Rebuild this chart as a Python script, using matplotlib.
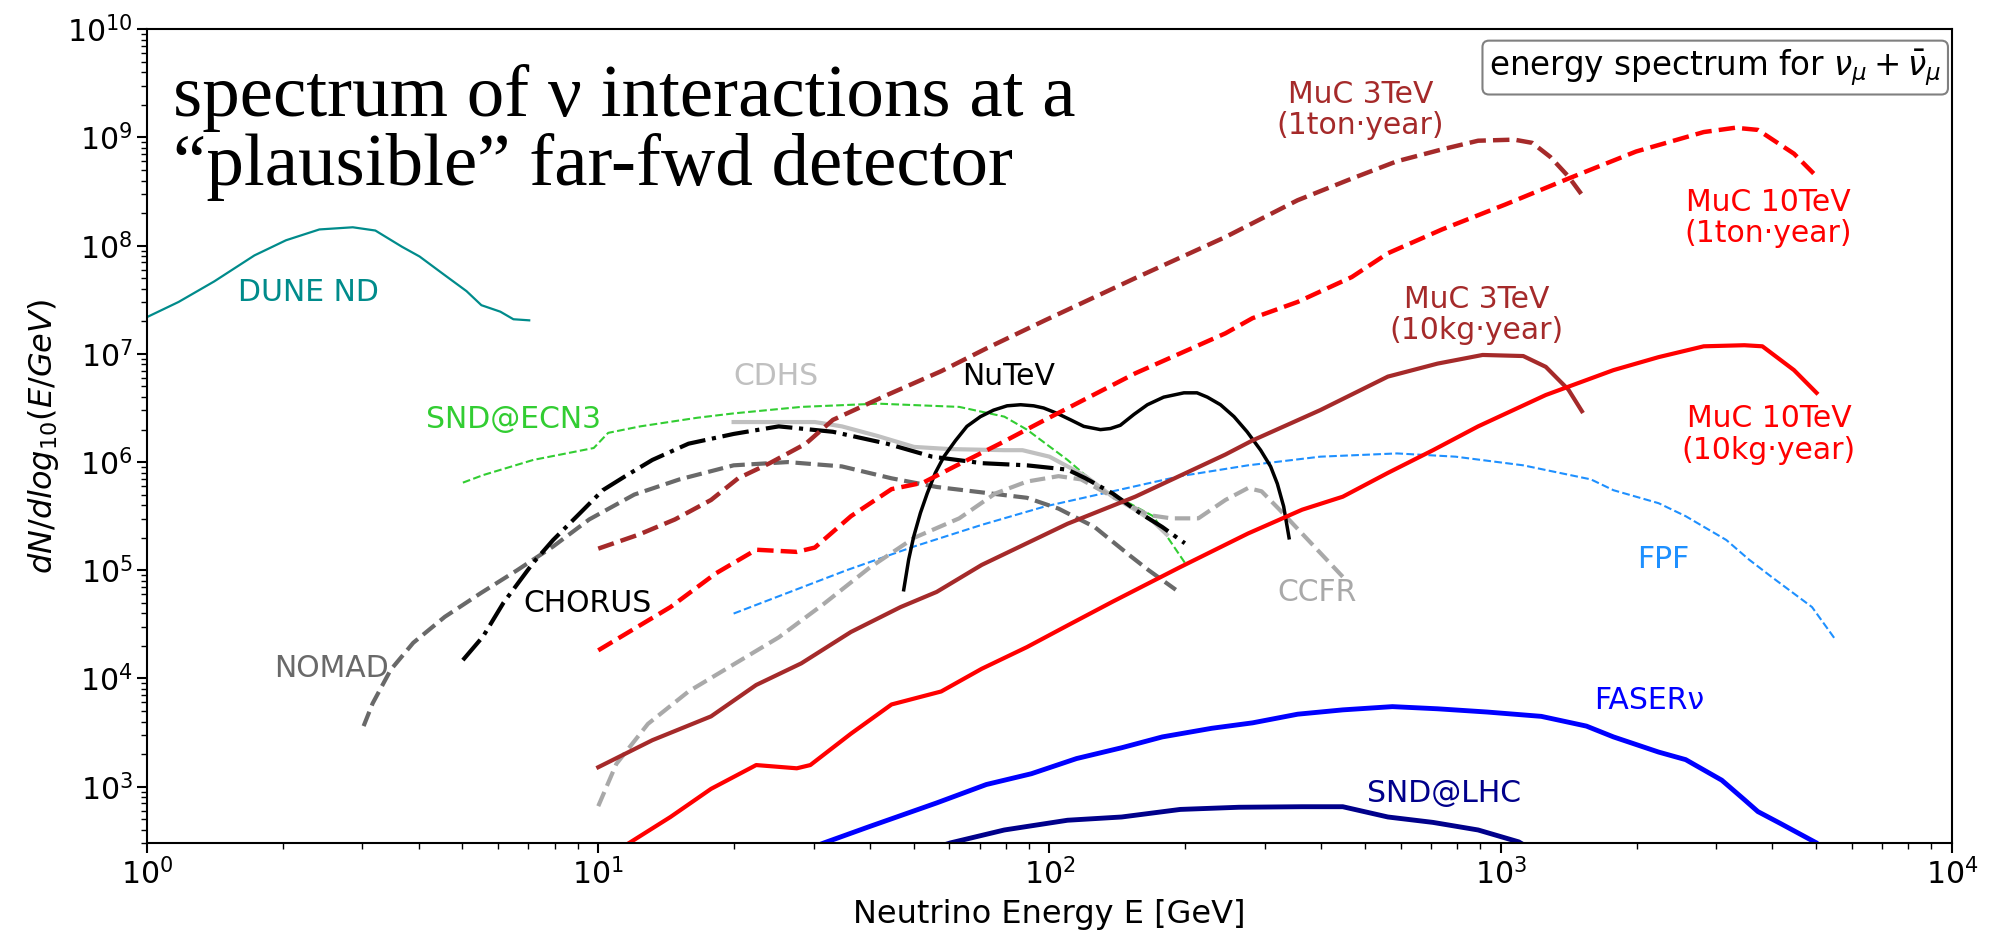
import numpy as np
import matplotlib
matplotlib.use("Agg")
import matplotlib.pyplot as plt

# values, as log10(E/GeV) and log10(dN/dlog10E)
dune_logE = [0.0, 0.07, 0.149, 0.238, 0.308, 0.382, 0.456, 0.506, 0.565, 0.604, 0.659, 0.708, 0.741, 0.783, 0.812, 0.847]
dune_logN = [7.34, 7.48, 7.67, 7.91, 8.05, 8.15, 8.17, 8.14, 7.99, 7.90, 7.73, 7.58, 7.45, 7.39, 7.32, 7.31]

ecn3_logE = [0.70, 0.745, 0.856, 0.99, 1.022, 1.093, 1.22, 1.30, 1.45, 1.62, 1.80, 1.90, 1.95, 2.04, 2.11, 2.19, 2.23, 2.30]
ecn3_logN = [5.81, 5.88, 6.02, 6.13, 6.27, 6.33, 6.41, 6.45, 6.51, 6.54, 6.51, 6.42, 6.30, 6.02, 5.77, 5.59, 5.50, 5.07]

cdhs_logE = [1.30, 1.48, 1.54, 1.62, 1.70, 1.78, 1.90, 1.94, 2.00, 2.08, 2.14, 2.19, 2.23, 2.26]
cdhs_logN = [6.37, 6.37, 6.33, 6.24, 6.14, 6.12, 6.11, 6.11, 6.05, 5.87, 5.68, 5.56, 5.45, 5.33]

chorus_logE = [0.70, 0.745, 0.79, 0.856, 0.90, 0.96, 1.01, 1.06, 1.12, 1.20, 1.30, 1.40, 1.52, 1.64, 1.74, 1.85, 1.95, 2.04, 2.08, 2.14, 2.20, 2.25, 2.30]
chorus_logN = [4.17, 4.39, 4.70, 5.07, 5.28, 5.53, 5.74, 5.87, 6.02, 6.17, 6.26, 6.33, 6.28, 6.17, 6.05, 5.99, 5.97, 5.93, 5.85, 5.71, 5.53, 5.40, 5.25]

nomad_logE = [0.48, 0.50, 0.54, 0.59, 0.66, 0.74, 0.82, 0.90, 0.98, 1.08, 1.18, 1.30, 1.42, 1.54, 1.65, 1.75, 1.87, 1.95, 2.02, 2.10, 2.18, 2.22, 2.28]
nomad_logN = [3.56, 3.77, 4.08, 4.33, 4.57, 4.79, 5.00, 5.22, 5.47, 5.70, 5.84, 5.97, 6.00, 5.96, 5.85, 5.77, 5.71, 5.67, 5.57, 5.40, 5.13, 5.00, 4.82]

nutev_logE = [1.677, 1.688, 1.699, 1.714, 1.729, 1.747, 1.766, 1.792, 1.817, 1.847, 1.876, 1.906, 1.936, 1.965,
              1.987, 2.017, 2.047, 2.076, 2.113, 2.135, 2.157, 2.187, 2.217, 2.253, 2.298, 2.327, 2.350, 2.379,
              2.409, 2.438, 2.468, 2.490, 2.505, 2.519, 2.531]
nutev_logN = [4.82, 5.10, 5.31, 5.53, 5.71, 5.90, 6.05, 6.20, 6.33, 6.42, 6.48, 6.52, 6.53, 6.52,
              6.50, 6.45, 6.39, 6.33, 6.30, 6.31, 6.34, 6.44, 6.53, 6.60, 6.64, 6.64, 6.60, 6.53,
              6.42, 6.28, 6.11, 5.96, 5.80, 5.59, 5.30]

ccfr_logE = [1.00, 1.04, 1.11, 1.20, 1.30, 1.40, 1.50, 1.60, 1.70, 1.80, 1.88, 1.95, 2.02, 2.07, 2.14, 2.22, 2.27, 2.33, 2.39, 2.44, 2.47, 2.51, 2.58, 2.65]
ccfr_logN = [2.82, 3.21, 3.58, 3.88, 4.13, 4.38, 4.69, 5.02, 5.30, 5.48, 5.71, 5.82, 5.87, 5.84, 5.68, 5.51, 5.48, 5.48, 5.65, 5.76, 5.73, 5.56, 5.25, 4.94]

muc3_ton_logE = [1.00, 1.09, 1.17, 1.25, 1.31, 1.38, 1.46, 1.52, 1.64, 1.76, 1.86, 1.99, 2.19, 2.39, 2.55, 2.67, 2.77, 2.87, 2.95, 3.03, 3.07, 3.11, 3.15, 3.18]
muc3_ton_logN = [5.20, 5.33, 5.47, 5.65, 5.85, 5.99, 6.17, 6.39, 6.62, 6.84, 7.05, 7.31, 7.70, 8.08, 8.42, 8.62, 8.78, 8.89, 8.97, 8.98, 8.95, 8.82, 8.64, 8.47]

muc10_ton_logE = [1.00, 1.16, 1.26, 1.35, 1.44, 1.48, 1.56, 1.65, 1.72, 1.79, 1.89, 1.99, 2.19, 2.39, 2.45, 2.55, 2.67, 2.75, 2.87, 3.01, 3.15, 3.30, 3.45, 3.52, 3.57, 3.65, 3.70]
muc10_ton_logN = [4.26, 4.66, 4.97, 5.19, 5.17, 5.21, 5.50, 5.75, 5.81, 5.96, 6.17, 6.39, 6.82, 7.19, 7.33, 7.48, 7.71, 7.93, 8.15, 8.38, 8.62, 8.87, 9.05, 9.09, 9.07, 8.85, 8.64]

muc3_kg_logE = [1.00, 1.12, 1.25, 1.35, 1.45, 1.56, 1.67, 1.75, 1.85, 1.95, 2.04, 2.19, 2.39, 2.45, 2.60, 2.75, 2.86, 2.96, 3.05, 3.10, 3.15, 3.18]
muc3_kg_logN = [3.18, 3.43, 3.65, 3.94, 4.14, 4.43, 4.66, 4.80, 5.05, 5.25, 5.43, 5.68, 6.07, 6.20, 6.48, 6.79, 6.91, 6.99, 6.98, 6.88, 6.67, 6.47]

muc10_kg_logE = [1.00, 1.16, 1.25, 1.35, 1.44, 1.47, 1.56, 1.65, 1.76, 1.85, 1.95, 2.04, 2.14, 2.29, 2.44, 2.56, 2.65, 2.75, 2.85, 2.95, 3.10, 3.25, 3.35, 3.45, 3.54, 3.58, 3.65, 3.70]
muc10_kg_logN = [2.30, 2.72, 2.98, 3.20, 3.17, 3.20, 3.49, 3.76, 3.88, 4.09, 4.29, 4.49, 4.71, 5.03, 5.34, 5.56, 5.68, 5.90, 6.11, 6.33, 6.62, 6.85, 6.97, 7.07, 7.08, 7.07, 6.85, 6.64]

fpf_logE = [1.30, 1.40, 1.55, 1.70, 1.85, 1.99, 2.14, 2.29, 2.44, 2.60, 2.77, 2.90, 3.05, 3.20, 3.25, 3.35, 3.41, 3.50, 3.55, 3.60, 3.69, 3.74]
fpf_logN = [4.60, 4.76, 5.00, 5.22, 5.42, 5.59, 5.73, 5.87, 5.97, 6.05, 6.08, 6.05, 5.97, 5.84, 5.74, 5.62, 5.50, 5.28, 5.10, 4.94, 4.66, 4.37]

faser_logE = [1.45, 1.50, 1.60, 1.75, 1.86, 1.96, 2.06, 2.16, 2.25, 2.36, 2.45, 2.55, 2.65, 2.76, 2.86, 2.97, 3.09, 3.19, 3.25, 3.35, 3.41, 3.49, 3.54, 3.57, 3.62, 3.70, 3.72]
faser_logN = [2.40, 2.48, 2.63, 2.85, 3.02, 3.12, 3.26, 3.36, 3.46, 3.54, 3.59, 3.67, 3.71, 3.74, 3.72, 3.69, 3.65, 3.56, 3.46, 3.32, 3.25, 3.06, 2.88, 2.77, 2.66, 2.48, 2.40]

sndlhc_logE = [1.72, 1.78, 1.90, 2.04, 2.16, 2.29, 2.42, 2.56, 2.65, 2.75, 2.85, 2.95, 3.04, 3.06]
sndlhc_logN = [2.40, 2.48, 2.60, 2.69, 2.72, 2.79, 2.81, 2.815, 2.815, 2.72, 2.67, 2.60, 2.49, 2.44]


def draw(ax, logE, logN, **kw):
    ax.plot(10 ** np.array(logE), 10 ** np.array(logN), **kw)


fig = plt.figure(figsize=(19.95, 9.32), dpi=100)
ax = fig.add_axes([0.0737, 0.0952, 0.9047, 0.8734])

draw(ax, dune_logE, dune_logN, color="darkcyan", lw=1.6)
draw(ax, ecn3_logE, ecn3_logN, color="limegreen", lw=1.5, ls="--")
draw(ax, fpf_logE, fpf_logN, color="dodgerblue", lw=1.5, ls="--")
draw(ax, cdhs_logE, cdhs_logN, color="silver", lw=3)
draw(ax, nomad_logE, nomad_logN, color="dimgray", lw=3, ls="--")
draw(ax, ccfr_logE, ccfr_logN, color="darkgray", lw=3, ls="--")
draw(ax, chorus_logE, chorus_logN, color="black", lw=3, ls="-.")
draw(ax, nutev_logE, nutev_logN, color="black", lw=2.5)
draw(ax, muc3_ton_logE, muc3_ton_logN, color="brown", lw=3.2, ls="--")
draw(ax, muc10_ton_logE, muc10_ton_logN, color="red", lw=3.2, ls="--")
draw(ax, muc3_kg_logE, muc3_kg_logN, color="brown", lw=3)
draw(ax, muc10_kg_logE, muc10_kg_logN, color="red", lw=3)
draw(ax, faser_logE, faser_logN, color="blue", lw=3.5)
draw(ax, sndlhc_logE, sndlhc_logN, color="darkblue", lw=3.5)

ax.set_xscale("log")
ax.set_yscale("log")
ax.set_xlim(1, 1e4)
ax.set_ylim(3e2, 1e10)

fs = 21.5
labels = [
    ("DUNE ND", 2.28, 3.7e7, "darkcyan"),
    ("SND@ECN3", 6.5, 2.5e6, "limegreen"),
    ("CDHS", 24.8, 6.2e6, "silver"),
    ("NuTeV", 81, 6.2e6, "black"),
    ("CHORUS", 9.46, 4.9e4, "black"),
    ("NOMAD", 2.56, 1.23e4, "dimgray"),
    ("CCFR", 391, 6.2e4, "darkgray"),
    ("FPF", 2297, 1.26e5, "dodgerblue"),
    ("FASERν", 2130, 6.2e3, "blue"),
    ("SND@LHC", 748, 870, "darkblue"),
    ("MuC 3TeV\n(1ton·year)", 489, 1.8e9, "brown"),
    ("MuC 10TeV\n(1ton·year)", 3910, 1.8e8, "red"),
    ("MuC 3TeV\n(10kg·year)", 885, 2.3e7, "brown"),
    ("MuC 10TeV\n(10kg·year)", 3930, 1.8e6, "red"),
]
for txt, x, y, c in labels:
    ax.text(x, y, txt, color=c, fontsize=fs, ha="center", va="center", linespacing=1.1)

ax.text(0.9942, 0.978, r"energy spectrum for $\nu_\mu + \bar{\nu}_\mu$", transform=ax.transAxes,
        ha="right", va="top", fontsize=23.5,
        bbox=dict(boxstyle="round,pad=0.2", facecolor="white", edgecolor="gray", lw=1.5))

fig.text(0.0867, 1 - 64 / 932, "spectrum of ν interactions at a\n\u201cplausible\u201d far-fwd detector",
         family="Liberation Serif", fontsize=54, ha="left", va="top", linespacing=1.02)

ax.set_xlabel("Neutrino Energy E [GeV]", fontsize=23, labelpad=6)
ax.set_ylabel(r"$dN/dlog_{10}(E/GeV)$", fontsize=23)
ax.tick_params(which="major", labelsize=21.5, length=7, width=1.5)
ax.tick_params(which="minor", length=4, width=1)
for s in ax.spines.values():
    s.set_linewidth(1.5)

fig.savefig("out.png", dpi=100)
